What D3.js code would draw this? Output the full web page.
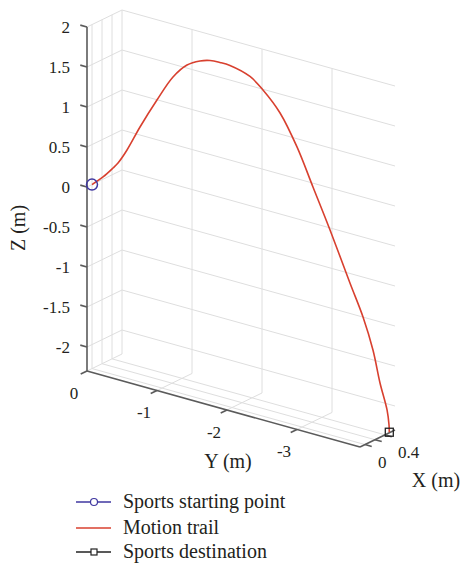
<!DOCTYPE html>
<html>
<head>
  <meta charset="utf-8">
  <title>Motion trail</title>
  <script src="https://d3js.org/d3.v7.min.js"></script>
  <style>
    body { margin: 0; background: #fff; }
    svg text { font-family: "Liberation Serif", "DejaVu Serif", serif; fill: #231f20; }
    .tick-label { font-family: "Liberation Serif", serif; font-size: 17px; }
    .axis-label { font-size: 20px; }
    .legend text { font-size: 20px; }
    .grid { stroke: #dedede; stroke-width: 1; fill: none; }
    .axis { stroke: #5b5b5b; stroke-width: 1.6; fill: none; }
  </style>
</head>
<body>
  <svg width="461" height="567"></svg>
  <script>
    // axis limits and ticks
    const xDomain = [-0.1, 0.6];
    const yDomain = [-3.9, 0];
    const zDomain = [-2.3, 2];
    const xTicks = [0, 0.2, 0.4];
    const xTickLabels = ["0", "", "0.4"];
    const yTicks = [0, -1, -2, -3];
    const yTickLabels = ["0", "-1", "-2", "-3"];
    const zTicks = [2, 1.5, 1, 0.5, 0, -0.5, -1, -1.5, -2];
    const zTickLabels = ["2", "1.5", "1", "0.5", "0", "-0.5", "-1", "-1.5", "-2"];

    // motion trail (m)
    const trailX = [0, 0.019, 0.035, 0.044, 0.059, 0.081, 0.109, 0.136, 0.160, 0.182, 0.199, 0.216, 0.232,
      0.266, 0.288, 0.317, 0.345, 0.372, 0.401, 0.434, 0.456, 0.473, 0.485, 0.497, 0.5, 0.5];
    const trailY = [0, -0.144, -0.275, -0.340, -0.458, -0.628, -0.850, -1.060, -1.243, -1.413, -1.544, -1.675, -1.805,
      -2.067, -2.237, -2.460, -2.682, -2.891, -3.114, -3.375, -3.546, -3.676, -3.768, -3.860, -3.886, -3.89];
    const trailZ = [0, 0.124, 0.263, 0.339, 0.526, 0.848, 1.231, 1.562, 1.749, 1.834, 1.867, 1.869, 1.858,
      1.774, 1.640, 1.398, 1.019, 0.561, 0.069, -0.540, -0.930, -1.316, -1.709, -2.028, -2.210, -2.30];
    const startPoint = [0, 0, 0];
    const endPoint = [0.5, -3.89, -2.3];

    const legendNames = ["Sports starting point", "Motion trail", "Sports destination"];

    const svg = d3.select("svg");

    // simple orthographic projection: each axis is a fraction along a screen vector
    const fx = d3.scaleLinear().domain(xDomain).range([0, 1]);
    const fy = d3.scaleLinear().domain([yDomain[1], yDomain[0]]).range([0, 1]);
    const fz = d3.scaleLinear().domain(zDomain).range([0, 1]);
    const O = [87, 371], EX = [35, -17], EY = [273, 76], EZ = [0, -344];

    function proj(x, y, z) {
      const a = fx(x), b = fy(y), c = fz(z);
      return [O[0] + a * EX[0] + b * EY[0] + c * EZ[0],
              O[1] + a * EX[1] + b * EY[1] + c * EZ[1]];
    }
    const unit = v => { const l = Math.hypot(v[0], v[1]); return [v[0] / l, v[1] / l]; };

    const [x0, x1] = xDomain, [y0, y1] = yDomain, [z0, z1] = zDomain;

    // grid lines on back wall, left wall and floor
    const gridSegs = [];
    yTicks.forEach(y => gridSegs.push([[x1, y, z0], [x1, y, z1]]));
    zTicks.forEach(z => gridSegs.push([[x1, y1, z], [x1, y0, z]]));
    xTicks.forEach(x => gridSegs.push([[x, y1, z0], [x, y1, z1]]));
    zTicks.forEach(z => gridSegs.push([[x0, y1, z], [x1, y1, z]]));
    xTicks.forEach(x => gridSegs.push([[x, y1, z0], [x, y0, z0]]));
    yTicks.forEach(y => gridSegs.push([[x0, y, z0], [x1, y, z0]]));

    svg.append("g").selectAll("line")
      .data(gridSegs)
      .enter().append("line")
      .attr("class", "grid")
      .attr("x1", d => proj(...d[0])[0]).attr("y1", d => proj(...d[0])[1])
      .attr("x2", d => proj(...d[1])[0]).attr("y2", d => proj(...d[1])[1]);

    // axes lines
    const axisSegs = [
      [[x0, y1, z0], [x0, y1, z1]],   // Z
      [[x0, y1, z0], [x0, y0, z0]],   // Y
      [[x0, y0, z0], [x1, y0, z0]]    // X
    ];
    const ax = svg.append("g");
    ax.selectAll("line.axis")
      .data(axisSegs)
      .enter().append("line")
      .attr("class", "axis")
      .attr("x1", d => proj(...d[0])[0]).attr("y1", d => proj(...d[0])[1])
      .attr("x2", d => proj(...d[1])[0]).attr("y2", d => proj(...d[1])[1]);

    // ticks (pointing outward)
    const tl = 7;
    const dEY = unit(EY), dEX = unit(EX);
    function tickMarks(vals, pt, dir) {
      ax.append("g").selectAll("line")
        .data(vals)
        .enter().append("line")
        .attr("class", "axis")
        .attr("x1", d => pt(d)[0]).attr("y1", d => pt(d)[1])
        .attr("x2", d => pt(d)[0] + dir[0] * tl).attr("y2", d => pt(d)[1] + dir[1] * tl);
    }
    tickMarks(zTicks, z => proj(x0, y1, z), [-dEY[0], -dEY[1]]);
    tickMarks(yTicks, y => proj(x0, y, z0), [-dEX[0], -dEX[1]]);
    tickMarks(xTicks, x => proj(x, y0, z0), dEY);

    // tick labels
    ax.append("g").selectAll("text")
      .data(zTicks)
      .enter().append("text")
      .attr("class", "tick-label")
      .attr("x", 70)
      .attr("y", d => proj(x0, y1, d)[1])
      .attr("dy", "0.35em")
      .attr("text-anchor", "end")
      .text((d, i) => zTickLabels[i]);

    ax.append("g").selectAll("text")
      .data(yTicks)
      .enter().append("text")
      .attr("class", "tick-label")
      .attr("x", d => proj(x0, d, z0)[0] - 13)
      .attr("y", d => proj(x0, d, z0)[1] + 22)
      .attr("dy", "0.35em")
      .attr("text-anchor", "middle")
      .text((d, i) => yTickLabels[i]);

    ax.append("g").selectAll("text")
      .data(xTicks)
      .enter().append("text")
      .attr("class", "tick-label")
      .attr("x", d => proj(d, y0, z0)[0] + 13)
      .attr("y", d => proj(d, y0, z0)[1] + 17)
      .attr("dy", "0.35em")
      .attr("text-anchor", "start")
      .text((d, i) => xTickLabels[i]);

    // axis titles
    svg.append("text").attr("class", "axis-label")
      .attr("transform", "translate(18,228) rotate(-90)")
      .attr("text-anchor", "middle").attr("dy", "0.35em")
      .text("Z (m)");
    svg.append("text").attr("class", "axis-label")
      .attr("x", 228).attr("y", 461)
      .attr("text-anchor", "middle").attr("dy", "0.35em")
      .text("Y (m)");
    svg.append("text").attr("class", "axis-label")
      .attr("x", 436).attr("y", 480)
      .attr("text-anchor", "middle").attr("dy", "0.35em")
      .text("X (m)");

    // trail
    const trail = trailX.map((x, i) => proj(x, trailY[i], trailZ[i]));
    svg.append("path")
      .datum(trail)
      .attr("fill", "none")
      .attr("stroke", "#d8402f")
      .attr("stroke-width", 1.6)
      .attr("d", d3.line().curve(d3.curveCatmullRom));

    const sp = proj(...startPoint), ep = proj(...endPoint);
    svg.append("circle")
      .attr("cx", sp[0]).attr("cy", sp[1]).attr("r", 5.5)
      .attr("fill", "none").attr("stroke", "#3f37a0").attr("stroke-width", 1.5);
    svg.append("rect")
      .attr("x", ep[0] - 4).attr("y", ep[1] - 4).attr("width", 8).attr("height", 8)
      .attr("fill", "none").attr("stroke", "#222").attr("stroke-width", 1.3);

    // legend
    const legendColors = ["#3f37a0", "#d8402f", "#222"];
    const legendMarks = ["circle", "none", "square"];
    const lg = svg.append("g").attr("class", "legend");
    const row = lg.selectAll("g")
      .data(legendNames)
      .enter().append("g")
      .attr("transform", (d, i) => `translate(0,${[502, 528, 552][i]})`);
    row.append("line")
      .attr("x1", 76).attr("x2", 111)
      .attr("stroke", (d, i) => legendColors[i])
      .attr("stroke-width", 1.3);
    row.filter((d, i) => legendMarks[i] === "circle").append("circle")
      .attr("cx", 94).attr("r", 3.5)
      .attr("fill", "#fff").attr("stroke", legendColors[0]).attr("stroke-width", 1.2);
    row.filter((d, i) => legendMarks[i] === "square").append("rect")
      .attr("x", 91).attr("y", -3).attr("width", 6).attr("height", 6)
      .attr("fill", "#fff").attr("stroke", legendColors[2]).attr("stroke-width", 1.2);
    row.append("text")
      .attr("x", 123)
      .attr("dy", "0.3em")
      .text(d => d);
  </script>
</body>
</html>
